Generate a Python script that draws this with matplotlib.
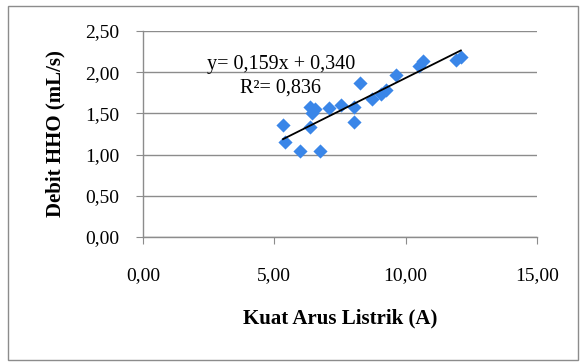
import numpy as np
import matplotlib.pyplot as plt
from matplotlib.patches import Rectangle

# Kuat arus listrik (A) vs debit HHO (mL/s)
arus = [5.33, 5.42, 5.99, 6.73, 6.37, 6.44, 6.37, 6.55, 7.07, 7.52, 8.05,
        8.05, 8.28, 8.70, 9.05, 9.27, 9.62, 10.50, 10.67, 11.90, 12.10]
debit = [1.36, 1.15, 1.04, 1.04, 1.58, 1.50, 1.33, 1.55, 1.56, 1.60, 1.58,
         1.39, 1.87, 1.68, 1.74, 1.78, 1.96, 2.08, 2.14, 2.15, 2.19]
slope, intercept, r2 = 0.159, 0.340, 0.836
xticks = [0, 5, 10, 15]
yticks = [0, 0.5, 1.0, 1.5, 2.0, 2.5]

plt.rcParams['font.family'] = ['Liberation Serif', 'DejaVu Serif']


def koma(v):
    return f"{v:.2f}".replace('.', ',')


fig = plt.figure(figsize=(5.84, 3.63), dpi=100)
fig.patches.append(Rectangle((8/584, 3/363), 570/584, 354/363, transform=fig.transFigure,
                             fill=False, edgecolor='#8c8c8c', linewidth=1))
ax = fig.add_axes([143/584, 1-237/363, 394/584, 206/363])

ax.scatter(arus, debit, marker='D', s=52, color='#3a86e8', zorder=3, linewidths=0)
xl = np.array([min(arus), max(arus)])
ax.plot(xl, slope*xl + intercept, color='black', linewidth=1.3, zorder=4)

eq = f"y= {slope:.3f}x + {intercept:.3f}".replace('.', ',') + "\n" + f"R²= {r2:.3f}".replace('.', ',')
fig.text(281/584, 1-76/363, eq, fontsize=14.5, ha='center', va='center', linespacing=1.35, zorder=5)

ax.set_xlim(0, 15)
ax.set_ylim(0, 2.5)
ax.set_xticks(xticks)
ax.set_yticks(yticks)
ax.set_xticklabels([koma(v) for v in xticks], fontsize=14)
ax.set_yticklabels([koma(v) for v in yticks], fontsize=14)
ax.tick_params(axis='x', length=5, color='#8c8c8c', pad=17)
ax.tick_params(axis='y', length=5, color='#8c8c8c', pad=12)
ax.grid(axis='y', color='#8c8c8c', linewidth=1)
ax.set_axisbelow(True)
for s in ['top', 'right']:
    ax.spines[s].set_visible(False)
for s in ['left', 'bottom']:
    ax.spines[s].set_color('#8c8c8c')
    ax.spines[s].set_linewidth(1)

ax.set_xlabel("Kuat Arus Listrik (A)", fontsize=15, fontweight='bold', labelpad=17)
ax.set_ylabel("Debit HHO (mL/s)", fontsize=15, fontweight='bold', labelpad=14)

fig.savefig("out.png", dpi=100)
